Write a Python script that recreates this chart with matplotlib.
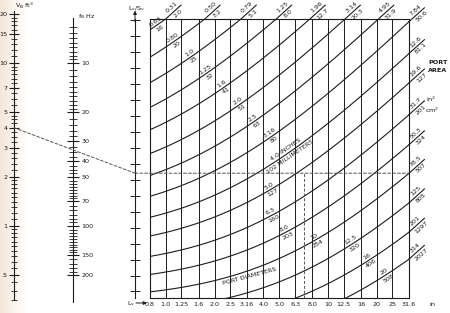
import numpy as np
import matplotlib.pyplot as plt
from matplotlib.patches import ConnectionPatch
from matplotlib.ticker import NullFormatter, NullLocator
from matplotlib.colors import LinearSegmentedColormap

plt.rcParams['font.family'] = ['Liberation Sans Narrow', 'DejaVu Sans']
plt.rcParams['mathtext.fontset'] = 'custom'
plt.rcParams['mathtext.rm'] = 'Liberation Sans Narrow'
plt.rcParams['mathtext.it'] = 'Liberation Sans Narrow'

# port diameters (in / mm) and matching port areas (in2 / cm2)
diam_in = [0.63, 0.80, 1.0, 1.25, 1.6, 2.0, 2.5, 3.16, 4.0, 5.0, 6.3, 8.0, 10, 12.5, 16, 20]
diam_in_txt = ['0.63', '0.80', '1.0', '1.25', '1.6', '2.0', '2.5', '3.16', '4.0 INCHES',
               '5.0', '6.3', '8.0', '10', '12.5', '16', '20']
diam_mm_txt = ['16', '20', '25', '32', '41', '51', '63', '80', '102 MILLIMETERS',
               '127', '160', '203', '254', '320', '406', '508']
area_in2 = [0.31, 0.50, 0.79, 1.25, 1.96, 3.14, 4.95, 7.84, 12.6, 19.6, 31.7, 50.3, 78.5, 125, 201, 314]
area_in2_txt = ['0.31', '0.50', '0.79', '1.25', '1.96', '3.14', '4.95', '7.84', '12.6', '19.6',
                '31.7', '50.3', '78.5', '125', '201', '314']
area_cm2_txt = ['2.0', '3.2', '5.1', '8.0', '12.7', '20.3', '31.9', '50.6', '81.1', '127',
                '201', '324', '507', '805', '1297', '2027']

# port length axis
lv_ticks = [0.8, 1.0, 1.25, 1.6, 2.0, 2.5, 3.16, 4.0, 5.0, 6.3, 8.0, 10, 12.5, 16, 20, 25, 31.6]
lv_labels = ['0.8', '1.0', '1.25', '1.6', '2.0', '2.5', '3.16', '4.0', '5.0', '6.3', '8.0',
             '10', '12.5', '16', '20', '25', '31.6']

# box volume and tuning scales
vb_major = [0.5, 1, 2, 3, 4, 5, 7, 10, 15, 20]
vb_labels = ['.5', '1', '2', '3', '4', '5', '7', '10', '15', '20']
fb_major = [10, 20, 30, 40, 50, 70, 100, 150, 200]
fb_labels = ['10', '20', '30', '40', '50', '70', '100', '150', '200']

# worked example (dashed lines)
ex_vb = 4.0
ex_ratio = 0.48
ex_lv = 7.1

end_corr = 0.6            # end correction, times diameter
ratio_lim = (0.0793, 4.44)
lvsv_ticks = 10 ** np.arange(0.64, -1.1, -0.1)

# where the diameter labels sit on their curves (Lv)
label_at = [0.89, 1.14, 1.45, 1.80, 2.29, 2.87, 3.55, 4.52, 5.67, 4.45, 4.52, 5.5, 8.4, 14.2, 17.9, 22.9]

ink = '#1c1c1c'
fs = 4.6
W, H = 450, 313


def fx(px):
    return px / W


def fy(py):
    return 1 - py / H


def port_ratio(lv, d, a):
    return (np.asarray(lv) + end_corr * d) / a


fig = plt.figure(figsize=(4.5, 3.13), dpi=100)

# faint scan tint at the left edge
bg = fig.add_axes([0, 0, 1, 1], zorder=-5)
tint = LinearSegmentedColormap.from_list('tint', ['#f5e6da', '#fbf4ee', '#ffffff'])
bg.imshow(np.linspace(0, 1, 40)[None, :], cmap=tint, aspect='auto', extent=(0, 28, 0, 1))
bg.set_xlim(0, W)
bg.set_ylim(0, 1)
bg.axis('off')

# main grid
ax = fig.add_axes([fx(150), fy(298), (409 - 150) / W, (298 - 19) / H])
ax.set_xscale('log')
ax.set_yscale('log')
ax.set_xlim(lv_ticks[0], lv_ticks[-1])
ax.set_ylim(*ratio_lim)
ax.set_xticks(lv_ticks, lv_labels)
ax.set_yticks([])
ax.minorticks_off()
ax.tick_params(axis='x', length=0, pad=3, labelsize=fs, colors=ink)
ax.grid(axis='x', color=ink, lw=0.7)
for s in ax.spines.values():
    s.set_color(ink)
    s.set_linewidth(0.8)

lv = np.geomspace(lv_ticks[0], lv_ticks[-1], 300)
for i, (d, a) in enumerate(zip(diam_in, area_in2)):
    ax.plot(lv, port_ratio(lv, d, a), color=ink, lw=0.8)

    # leader line leaving the grid with the area label
    r_right = port_ratio(lv_ticks[-1], d, a)
    if r_right > ratio_lim[1]:
        lv_exit = ratio_lim[1] * a - end_corr * d
        r_exit = ratio_lim[1]
    else:
        lv_exit = lv_ticks[-1]
        r_exit = r_right
    ang = np.radians(42)
    L = 15
    ax.annotate('', xy=(lv_exit, r_exit), xytext=(L * np.cos(ang), L * np.sin(ang)),
                textcoords='offset points', annotation_clip=False,
                arrowprops=dict(arrowstyle='-', lw=0.8, color=ink, shrinkA=0, shrinkB=0))
    mx, my = 9 * np.cos(ang), 9 * np.sin(ang)
    px_, py_ = -np.sin(ang) * 3.2, np.cos(ang) * 3.2
    ax.annotate(area_in2_txt[i], xy=(lv_exit, r_exit), xytext=(mx + px_, my + py_),
                textcoords='offset points', rotation=42, rotation_mode='anchor',
                ha='center', va='center', fontsize=fs, color=ink, annotation_clip=False)
    ax.annotate(area_cm2_txt[i], xy=(lv_exit, r_exit), xytext=(mx - px_, my - py_),
                textcoords='offset points', rotation=42, rotation_mode='anchor',
                ha='center', va='center', fontsize=fs, color=ink, annotation_clip=False)

    # diameter label on the curve
    x0 = label_at[i]
    p0 = ax.transData.transform((x0 * 0.95, port_ratio(x0 * 0.95, d, a)))
    p1 = ax.transData.transform((x0 * 1.05, port_ratio(x0 * 1.05, d, a)))
    t = np.arctan2(p1[1] - p0[1], p1[0] - p0[0])
    ox, oy = -np.sin(t) * 3.0, np.cos(t) * 3.0
    for txt, sgn in ((diam_in_txt[i], 1), (diam_mm_txt[i], -1)):
        ax.annotate(txt, xy=(x0, port_ratio(x0, d, a)), xytext=(sgn * ox, sgn * oy),
                    textcoords='offset points', rotation=np.degrees(t), rotation_mode='anchor',
                    ha='center', va='center', fontsize=fs, color=ink)

ax.text(0.385, 0.078, 'PORT DIAMETERS', transform=ax.transAxes, rotation=15,
        ha='center', va='center', fontsize=fs, color=ink)
ax.plot([ex_lv, ex_lv], [ratio_lim[0], ex_ratio], color='#555555', lw=0.7, ls=(0, (3, 2)))

# Lv/Sv scale
ax_ls = fig.add_axes([fx(135), fy(298), 0.01, (298 - 19) / H])
ax_ls.set_yscale('log')
ax_ls.set_ylim(*ratio_lim)
ax_ls.patch.set_visible(False)
for s in ['top', 'right', 'bottom']:
    ax_ls.spines[s].set_visible(False)
ax_ls.spines['left'].set_color(ink)
ax_ls.spines['left'].set_linewidth(0.8)
ax_ls.set_xticks([])
ax_ls.set_yticks(lvsv_ticks, [''] * len(lvsv_ticks))
ax_ls.yaxis.set_minor_locator(NullLocator())
ax_ls.tick_params(axis='y', direction='inout', length=6.5, width=0.7, color=ink)
ax_ls.annotate('', xy=(0, 1.03), xycoords='axes fraction', xytext=(0, 0.99),
               arrowprops=dict(arrowstyle='-|>', lw=0.7, color=ink, mutation_scale=5,
                               shrinkA=0, shrinkB=0))

# V_B scale
ax_vb = fig.add_axes([fx(14), fy(300), 0.01, (300 - 11) / H])
ax_vb.set_yscale('log')
ax_vb.set_ylim(0.352, 20.84)
ax_vb.patch.set_visible(False)
for s in ['top', 'right', 'bottom']:
    ax_vb.spines[s].set_visible(False)
ax_vb.spines['left'].set_color(ink)
ax_vb.spines['left'].set_linewidth(0.8)
ax_vb.set_xticks([])
vb_minor = np.concatenate([np.arange(0.35, 0.5, 0.05), np.arange(0.55, 1.0, 0.05),
                           np.arange(1.1, 2.0, 0.1), np.arange(2.2, 3.0, 0.2),
                           np.arange(3.25, 5.0, 0.25), np.arange(5.5, 10, 0.5),
                           np.arange(11, 20, 1)])
ax_vb.set_yticks(vb_major, vb_labels)
ax_vb.set_yticks(vb_minor, minor=True)
ax_vb.yaxis.set_minor_formatter(NullFormatter())
ax_vb.tick_params(which='major', direction='inout', length=7.5, width=0.8, pad=1,
                  labelsize=fs, colors=ink)
ax_vb.tick_params(which='minor', direction='inout', length=4.5, width=0.6, colors=ink)

# f_B scale
ax_fb = fig.add_axes([fx(73) - 0.01, fy(302), 0.01, (302 - 18) / H])
ax_fb.set_yscale('log')
ax_fb.set_ylim(292, 5.29)
ax_fb.patch.set_visible(False)
for s in ['top', 'left', 'bottom']:
    ax_fb.spines[s].set_visible(False)
ax_fb.spines['right'].set_color(ink)
ax_fb.spines['right'].set_linewidth(0.8)
ax_fb.set_xticks([])
ax_fb.yaxis.tick_right()
fb_minor = np.concatenate([np.arange(6, 10, 0.5), np.arange(11, 20, 1), np.arange(22, 30, 2),
                           np.arange(32.5, 50, 2.5), np.arange(52.5, 70, 2.5),
                           np.arange(75, 100, 5), np.arange(105, 150, 5), np.arange(160, 200, 10)])
fb_minor = [v for v in fb_minor if v not in fb_major]
ax_fb.set_yticks(fb_major, fb_labels)
ax_fb.set_yticks(fb_minor, minor=True)
ax_fb.yaxis.set_minor_formatter(NullFormatter())
ax_fb.tick_params(which='major', direction='inout', length=9, width=0.8, pad=1.5,
                  labelsize=fs, colors=ink)
ax_fb.tick_params(which='minor', direction='inout', length=5.5, width=0.6, colors=ink)

# example: V_B -> L/S scale, then across and down
dash = dict(color='#555555', lw=0.7, linestyle=(0, (3, 2)))
fig.add_artist(ConnectionPatch(xyA=(0, ex_vb), coordsA=ax_vb.get_yaxis_transform(),
                               xyB=(0, ex_ratio), coordsB=ax_ls.get_yaxis_transform(), **dash))
fig.add_artist(ConnectionPatch(xyA=(0, ex_ratio), coordsA=ax_ls.get_yaxis_transform(),
                               xyB=(lv_ticks[-1], ex_ratio), coordsB=ax.transData, **dash))

# titles and side texts
fig.text(fx(24), fy(6), r'V$_\mathrm{B}$ ft$^3$', fontsize=fs, ha='center', va='center', color=ink)
fig.text(fx(87), fy(17), r'f$_\mathrm{B}$ Hz', fontsize=fs, ha='center', va='center', color=ink)
fig.text(fx(137), fy(9), r'L$_\mathrm{v}$/S$_\mathrm{v}$', fontsize=fs, ha='center', va='center', color=ink)
fig.text(fx(131), fy(304), r'L$_\mathrm{v}$', fontsize=fs, ha='center', va='center', color=ink)
fig.add_artist(ConnectionPatch(xyA=(fx(136), fy(303)), coordsA='figure fraction',
                               xyB=(fx(147), fy(303)), coordsB='figure fraction',
                               arrowstyle='-|>', lw=0.7, color=ink, mutation_scale=5))
fig.text(fx(432), fy(304), 'in', fontsize=fs, ha='center', va='center', color=ink)
fig.text(fx(438), fy(62), 'PORT', fontsize=fs, weight='bold', ha='center', va='center', color=ink)
fig.text(fx(438), fy(71), 'AREA', fontsize=fs, weight='bold', ha='center', va='center', color=ink)
fig.text(fx(431), fy(99), r'in$^2$', fontsize=fs, ha='center', va='center', color=ink)
fig.text(fx(432), fy(110), r'cm$^2$', fontsize=fs, ha='center', va='center', color=ink)

fig.savefig('out.png', dpi=100)
